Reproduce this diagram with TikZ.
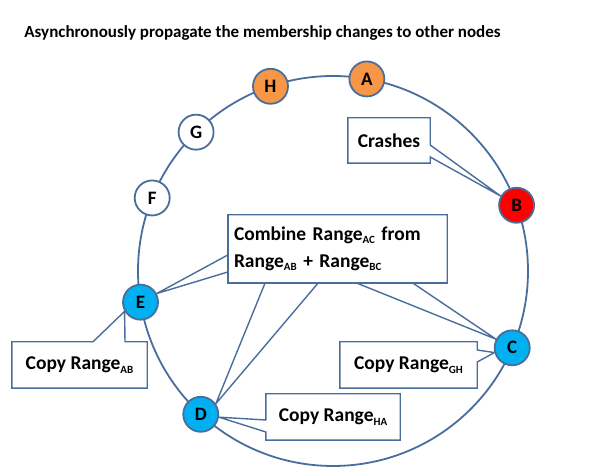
\documentclass[tikz,border=0pt]{standalone}
\usepackage{fontspec}
\setmainfont{Carlito}
\usetikzlibrary{calc,backgrounds}
\definecolor{ringblue}{HTML}{4A6E9C}
\definecolor{orangef}{HTML}{F79646}
\definecolor{bluef}{HTML}{00B0F0}
\definecolor{redf}{HTML}{FF0000}
\newcommand\rsub[1]{\raisebox{-0.35ex}{\fontsize{11}{11}\selectfont #1}}
\begin{document}
\begin{tikzpicture}[x=1pt,y=1pt,
  ring/.style={draw=ringblue, line width=1.8pt},
  member/.style={circle, draw=ringblue, line width=1.8pt, minimum size=35pt, inner sep=0pt, font=\fontsize{19}{19}\selectfont\bfseries},
  callout/.style={draw=ringblue, line width=1.4pt, fill=white, line join=miter},
  boxtext/.style={inner sep=0pt, font=\fontsize{19.5}{27}\selectfont\bfseries}]
\useasboundingbox (0,0) rectangle (600,473);
\coordinate (ctr) at (333,202);
\node[font=\fontsize{17}{20}\selectfont\bfseries] (title) at (262.5,440) {Asynchronously propagate the membership changes to other nodes};
% ring members
\node[member, fill=orangef] (A) at ($(ctr)+(80:195)$) {A};
\node[member, fill=orangef] (H) at ($(ctr)+(108.7:195)$) {H};
\node[member, fill=white] (G) at ($(ctr)+(134.6:195)$) {G};
\node[member, fill=white] (F) at ($(ctr)+(158:195)$) {F};
\node[member, fill=bluef] (E) at ($(ctr)+(189.2:195)$) {E};
\node[member, fill=bluef] (D) at ($(ctr)+(227.3:195)$) {D};
\node[member, fill=bluef] (C) at ($(ctr)+(336.8:195)$) {C};
\node[member, fill=redf] (B) at ($(ctr)+(19.7:195)$) {B};
% callout texts
\node[boxtext, minimum width=82pt, minimum height=45pt] (crash) at (389,332.5) {Crashes};
\node[boxtext, text width=207pt, align=left, minimum height=68pt, inner xsep=6pt] (comb) at (337.5,224)
  {Combine Range\rsub{AC} from\\Range\rsub{AB} + Range\rsub{BC}};
\node[boxtext, minimum width=135pt, minimum height=46pt] (ab) at (79.5,108) {Copy Range\rsub{AB}};
\node[boxtext, minimum width=137pt, minimum height=46pt] (gh) at (408.5,108) {Copy Range\rsub{GH}};
\node[boxtext, minimum width=134pt, minimum height=46pt] (ha) at (333,56) {Copy Range\rsub{HA}};
\begin{scope}[on background layer]
  \fill[white] (0,0) rectangle (600,473);
  \draw[ring] (ctr) circle (195);
  \draw[callout] (crash.north west) -- (crash.north east) -- ([yshift=-4.5pt]crash.east) -- (B.150)
     -- ([yshift=-16.5pt]crash.east) -- (crash.south east) -- (crash.south west) -- cycle;
  \draw[callout] (comb.north west) -- (comb.north east) -- (comb.south east)
     -- ([xshift=75.5pt]comb.south) -- (C.152) -- ([xshift=19.5pt]comb.south)
     -- ([xshift=-19.5pt]comb.south) -- (D.35) -- ([xshift=-72.5pt]comb.south)
     -- (comb.south west) -- ([yshift=-23pt]comb.west) -- (E.28) -- ([yshift=-6pt]comb.west) -- cycle;
  \draw[draw=ringblue, line width=1.4pt] (comb.north west) rectangle (comb.south east);
  \draw[callout] (ab.north west) -- ([xshift=13.5pt]ab.north) -- (E.210) -- ([xshift=45.5pt]ab.north)
     -- (ab.north east) -- (ab.south east) -- (ab.south west) -- cycle;
  \draw[callout] (gh.north west) -- (gh.north east) -- ([yshift=15pt]gh.east) -- (C.195)
     -- ([yshift=3pt]gh.east) -- (gh.south east) -- (gh.south west) -- cycle;
  \draw[callout] (ha.north west) -- (ha.north east) -- (ha.south east) -- (ha.south west)
     -- ([yshift=-15pt]ha.west) -- (D.-9) -- ([yshift=-3pt]ha.west) -- cycle;
\end{scope}
\end{tikzpicture}
\end{document}
